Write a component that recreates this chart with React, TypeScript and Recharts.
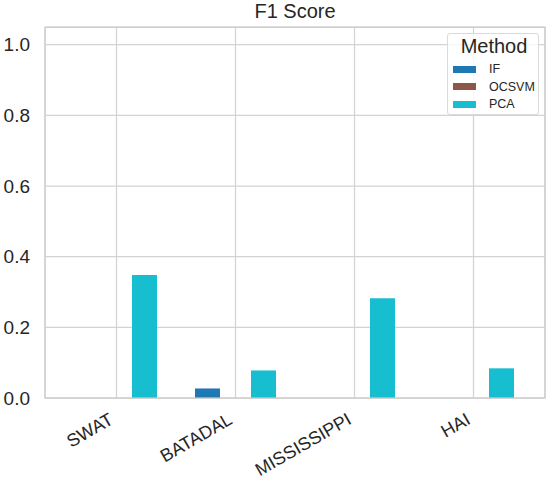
import React from 'react';
import { BarChart, Bar, XAxis, YAxis, CartesianGrid, Legend } from 'recharts';

const categories = ['SWAT', 'BATADAL', 'MISSISSIPPI', 'HAI'];
const ifScores = [0, 0.027, 0, 0];
const ocsvmScores = [0, 0, 0, 0];
const pcaScores = [0.348, 0.078, 0.282, 0.084];
const yTicks = [0, 0.2, 0.4, 0.6, 0.8, 1.0];
const methods = ['IF', 'OCSVM', 'PCA'];
const methodColors = ['#1f77b4', '#8c564b', '#17becf'];
const chartTitle = 'F1 Score';
const legendTitle = 'Method';

const data = categories.map((c, i) => ({
  dataset: c,
  IF: ifScores[i],
  OCSVM: ocsvmScores[i],
  PCA: pcaScores[i],
}));

const FONT = '"Liberation Sans", Arial, Helvetica, sans-serif';
const TEXT = '#262626';

const XTick = (props: any) => {
  const { x, y, payload } = props;
  return (
    <g transform={`translate(${x - 2},${y + 25}) rotate(-30)`}>
      <text x={0} y={0} textAnchor="end" fontSize={18} fontFamily={FONT} fill={TEXT}>
        {payload.value}
      </text>
    </g>
  );
};

const renderLegend = () => (
  <div
    style={{
      position: 'relative',
      width: 92,
      height: 82,
      boxSizing: 'border-box',
      border: '1px solid #dadada',
      borderRadius: 3,
      background: 'rgba(255,255,255,0.8)',
      fontFamily: FONT,
      color: TEXT,
    }}
  >
    <div
      style={{
        position: 'absolute',
        left: 0,
        width: 92,
        top: 1,
        textAlign: 'center',
        fontSize: 20,
        lineHeight: '23px',
      }}
    >
      {legendTitle}
    </div>
    {methods.map((m, i) => (
      <div key={m}>
        <div
          style={{
            position: 'absolute',
            left: 5,
            top: 31.5 + i * 17.7,
            width: 23,
            height: 7,
            background: methodColors[i],
          }}
        />
        <div
          style={{
            position: 'absolute',
            left: 41,
            top: 27 + i * 17.7,
            fontSize: 12.5,
            lineHeight: '16px',
            whiteSpace: 'nowrap',
          }}
        >
          {m}
        </div>
      </div>
    ))}
  </div>
);

export default function App() {
  return (
    <div style={{ position: 'absolute', left: 0, top: 0, width: 550, height: 488, background: '#fff' }}>
      <BarChart
        width={550}
        height={488}
        data={data}
        margin={{ top: 27, right: 5, bottom: 0, left: 0 }}
        barSize={25}
        barGap={3}
      >
        <CartesianGrid stroke="#d3d3d3" strokeWidth={1.25} />
        <XAxis
          dataKey="dataset"
          interval={0}
          height={90}
          padding={{ left: 12, right: 12 }}
          tickLine={false}
          axisLine={false}
          tickSize={0}
          tickMargin={0}
          tick={<XTick />}
        />
        <YAxis
          width={45}
          domain={[0, 1.05]}
          ticks={yTicks}
          tickFormatter={(v: number) => v.toFixed(1)}
          tickLine={false}
          axisLine={false}
          tickSize={0}
          tickMargin={15}
          tick={{ fontSize: 19, fontFamily: FONT, fill: TEXT }}
        />
        <Legend
          layout="vertical"
          align="center"
          verticalAlign="middle"
          wrapperStyle={{ position: 'absolute', left: 447, top: 33, width: 92, height: 82 }}
          content={renderLegend}
        />
        {methods.map((m, i) => (
          <Bar key={m} dataKey={m} fill={methodColors[i]} isAnimationActive={false} />
        ))}
      </BarChart>
      <svg
        width={550}
        height={488}
        style={{ position: 'absolute', left: 0, top: 0, pointerEvents: 'none' }}
      >
        <rect x={45} y={27.3} width={500} height={370.7} fill="none" stroke="#cccccc" strokeWidth={1.25} />
        <text x={295} y={18} textAnchor="middle" fontSize={20} fontFamily={FONT} fill={TEXT}>
          {chartTitle}
        </text>
      </svg>
    </div>
  );
}
